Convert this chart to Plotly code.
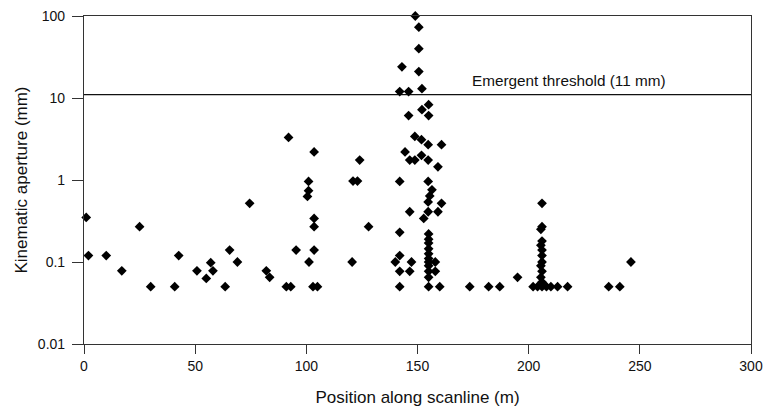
import plotly.graph_objects as go

# Position along scanline (m)
positions = [
    1, 2, 10, 17, 25, 30, 40.8, 42.6, 50.8, 55, 57, 58, 63.5, 65.5, 69, 74.5,
    82, 83.5, 91, 93, 92, 95.4,
    101, 101, 100.5, 101.2, 103.5, 103.5, 103.5, 103.5, 103, 105,
    120.6, 121, 123, 124, 128,
    140, 142, 142, 142, 142, 142, 142, 143, 144.4, 146.5, 146, 146, 146.5, 147.3,
    146.5, 148.8, 148.8, 149, 150.6, 150.6, 150.6, 152, 152, 151.8, 151.8, 152.8,
    155, 155, 154.8, 154.8, 154.8, 156.5, 155.5, 154.8, 154.8,
    155, 155, 155, 155, 155, 155, 155, 155, 155, 155, 155,
    158, 158, 159.2, 159.2, 160.8, 160.8, 160,
    173.5, 182, 187, 195,
    206, 206, 205.5, 206, 205.5, 206, 206, 206, 205.5, 206, 205.5, 206,
    202, 204, 206, 208, 210, 213, 217.5, 236, 241, 246,
]

# Kinematic aperture (mm)
apertures = [
    0.35, 0.12, 0.12, 0.078, 0.27, 0.05, 0.05, 0.12, 0.078, 0.063, 0.098, 0.078, 0.05, 0.14, 0.1, 0.52,
    0.078, 0.065, 0.05, 0.05, 3.3, 0.14,
    0.96, 0.74, 0.63, 0.1, 2.2, 0.34, 0.27, 0.14, 0.05, 0.05,
    0.1, 0.97, 0.97, 1.75, 0.27,
    0.1, 0.05, 0.077, 0.12, 0.23, 0.96, 12, 24, 2.2, 0.41, 6.1, 12, 0.077, 0.1,
    1.75, 1.75, 3.4, 100, 73, 40, 21, 13, 7.2, 3.1, 2.0, 0.34,
    8.3, 6.1, 2.7, 1.75, 0.96, 0.76, 0.64, 0.54, 0.41,
    0.22, 0.19, 0.17, 0.145, 0.126, 0.11, 0.1, 0.09, 0.077, 0.065, 0.05,
    0.1, 0.077, 1.45, 0.41, 2.7, 0.52, 0.05,
    0.05, 0.05, 0.05, 0.065,
    0.52, 0.27, 0.25, 0.18, 0.16, 0.14, 0.12, 0.1, 0.09, 0.077, 0.065, 0.057,
    0.05, 0.05, 0.05, 0.05, 0.05, 0.05, 0.05, 0.05, 0.05, 0.1,
]

threshold_x = [0, 300]
threshold_value = 11
threshold_label = "Emergent threshold (11 mm)"

y_tickvals = [0.01, 0.1, 1, 10, 100]
y_ticktext = ["0.01", "0.1", "1", "10", "100"]
x_tickvals = [0, 50, 100, 150, 200, 250, 300]

FONT = "Liberation Sans, Arial, sans-serif"

fig = go.Figure()
fig.add_trace(go.Scatter(
    x=threshold_x, y=[threshold_value] * len(threshold_x),
    mode="lines", line=dict(color="#111111", width=1.2),
    hoverinfo="skip", showlegend=False,
))
fig.add_trace(go.Scatter(
    x=positions, y=apertures, mode="markers",
    marker=dict(symbol="diamond", size=7.5, color="black", line=dict(width=0)),
    showlegend=False, cliponaxis=False,
))

fig.add_annotation(
    x=173.5, y=1.217, xref="x", yref="y", text=threshold_label,
    showarrow=False, xanchor="left", yanchor="middle",
    font=dict(family=FONT, size=15.3, color="#111111"),
)

fig.update_layout(
    width=767, height=409,
    margin=dict(l=84, r=16, t=16, b=65),
    paper_bgcolor="white", plot_bgcolor="white",
    font=dict(family=FONT, size=14, color="#111111"),
)
fig.update_xaxes(
    range=[0, 300], tickvals=x_tickvals, automargin=False, ticklabeloverflow="allow",
    showgrid=False, zeroline=False,
    showline=True, linecolor="#333333", linewidth=1.2, mirror=True,
    ticks="outside", ticklen=9, tickcolor="#333333", tickwidth=1.2,
    tickfont=dict(size=14),
    title=dict(text="Position along scanline (m)", font=dict(size=17), standoff=18),
)
fig.update_yaxes(
    type="log", range=[-2, 2], tickvals=y_tickvals, ticktext=y_ticktext,
    automargin=False, ticklabeloverflow="allow", ticklabelstandoff=4,
    showgrid=False, zeroline=False,
    showline=True, linecolor="#333333", linewidth=1.2, mirror=True,
    ticks="outside", ticklen=11, tickcolor="#333333", tickwidth=1.2,
    tickfont=dict(size=14),
    title=dict(text="Kinematic aperture (mm)", font=dict(size=17), standoff=5),
)

# remove the default page margin so the 767x409 figure fills the window exactly
fig.write_html(
    "out.html",
    config={"displayModeBar": False},
    post_script="document.body.style.margin='0';document.body.style.overflow='hidden';",
)
